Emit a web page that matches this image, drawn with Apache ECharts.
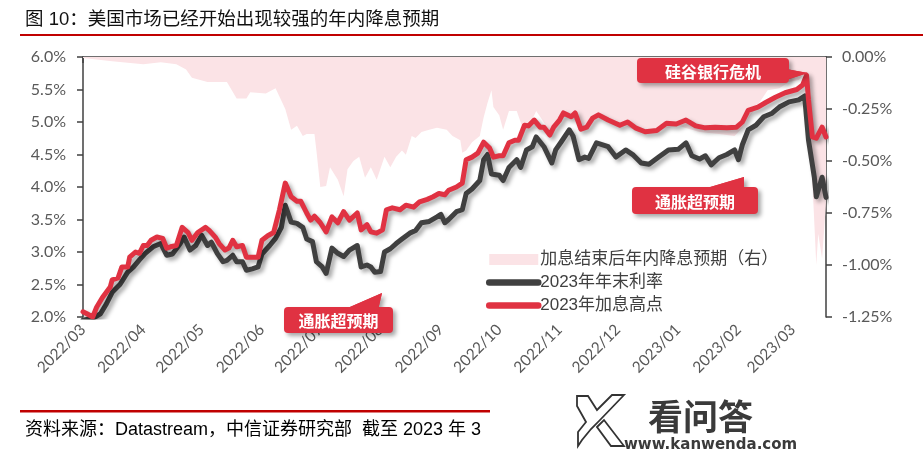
<!DOCTYPE html>
<html><head><meta charset="utf-8">
<script src="https://cdn.jsdelivr.net/npm/echarts@6/dist/echarts.min.js"></script>
<style>html,body{margin:0;padding:0;background:#fff;}#c{width:923px;height:457px;}</style>
</head><body><div id="c"></div>
<script>
// ---- data ----
const titleText = '图 10：美国市场已经开始出现较强的年内降息预期';
const sourceText = '资料来源：Datastream，中信证券研究部  截至 2023 年 3';
const seriesNames = ['加息结束后年内降息预期（右）', '2023年年末利率', '2023年加息高点'];
const xRange = ['2022-03-01', '2023-03-18'];
const leftAxis = { min: 2.0, max: 6.0, step: 0.5 };
const rightAxis = { min: -1.25, max: 0, step: 0.25 };

// 加息结束后年内降息预期（右） (%)
const cutExpect = [
 ['2022-03-01',-0.005],['2022-03-16',-0.02],['2022-04-01',-0.035],['2022-04-10',-0.025],['2022-04-18',-0.035],
 ['2022-04-23',-0.06],['2022-04-26',-0.10],['2022-05-04',-0.12],['2022-05-14',-0.12],['2022-05-19',-0.20],
 ['2022-05-24',-0.20],['2022-05-26',-0.17],['2022-06-03',-0.175],['2022-06-08',-0.15],['2022-06-13',-0.25],
 ['2022-06-16',-0.35],['2022-06-19',-0.33],['2022-06-22',-0.38],['2022-06-24',-0.37],['2022-06-28',-0.37],
 ['2022-06-29',-0.45],['2022-07-01',-0.625],['2022-07-04',-0.62],['2022-07-06',-0.53],['2022-07-10',-0.59],
 ['2022-07-13',-0.67],['2022-07-15',-0.54],['2022-07-18',-0.50],['2022-07-21',-0.48],['2022-07-24',-0.58],
 ['2022-07-27',-0.53],['2022-07-30',-0.59],['2022-08-03',-0.48],['2022-08-06',-0.53],['2022-08-09',-0.48],
 ['2022-08-12',-0.45],['2022-08-14',-0.47],['2022-08-17',-0.38],['2022-08-19',-0.39],['2022-08-22',-0.36],
 ['2022-08-26',-0.35],['2022-08-30',-0.34],['2022-09-04',-0.35],['2022-09-07',-0.38],['2022-09-11',-0.40],
 ['2022-09-12',-0.46],['2022-09-14',-0.45],['2022-09-17',-0.41],['2022-09-21',-0.38],['2022-09-23',-0.29],
 ['2022-09-25',-0.22],['2022-09-27',-0.16],['2022-09-28',-0.24],['2022-10-01',-0.28],['2022-10-03',-0.35],
 ['2022-10-06',-0.26],['2022-10-10',-0.26],['2022-10-13',-0.34],['2022-10-16',-0.34],['2022-10-20',-0.26],
 ['2022-10-23',-0.30],['2022-10-27',-0.36],['2022-11-01',-0.30],['2022-11-06',-0.27],['2022-11-12',-0.34],
 ['2022-11-18',-0.29],['2022-11-21',-0.28],['2022-12-02',-0.32],['2022-12-12',-0.36],['2022-12-22',-0.35],
 ['2023-01-01',-0.33],['2023-01-12',-0.36],['2023-01-22',-0.37],['2023-01-30',-0.38],['2023-02-03',-0.34],
 ['2023-02-11',-0.23],['2023-02-16',-0.16],['2023-02-22',-0.15],['2023-02-27',-0.12],['2023-03-04',-0.11],
 ['2023-03-07',-0.08],['2023-03-09',-0.25],['2023-03-11',-0.60],['2023-03-13',-1.00],['2023-03-14',-0.85],
 ['2023-03-16',-0.97],['2023-03-18',-0.70]
];

// 2023年年末利率 (%)
const yearEndRate = [
 ['2022-03-01',1.95],['2022-03-06',1.98],['2022-03-10',2.05],['2022-03-13',2.2],['2022-03-16',2.38],
 ['2022-03-20',2.5],['2022-03-24',2.69],['2022-03-27',2.77],['2022-03-30',2.88],['2022-04-02',2.98],
 ['2022-04-06',3.08],['2022-04-10',3.13],['2022-04-13',2.95],['2022-04-16',2.97],['2022-04-20',3.13],
 ['2022-04-22',3.23],['2022-04-25',3.03],['2022-04-28',3.1],['2022-05-01',3.26],['2022-05-04',3.1],
 ['2022-05-06',3.15],['2022-05-09',2.98],['2022-05-12',2.85],['2022-05-14',2.87],['2022-05-17',2.95],
 ['2022-05-19',2.85],['2022-05-22',2.85],['2022-05-24',2.72],['2022-05-27',2.74],['2022-05-30',2.77],
 ['2022-06-01',2.97],['2022-06-05',3.1],['2022-06-08',3.21],['2022-06-11',3.38],['2022-06-13',3.72],
 ['2022-06-16',3.46],['2022-06-19',3.44],['2022-06-22',3.38],['2022-06-24',3.2],['2022-06-27',3.16],
 ['2022-06-29',2.85],['2022-07-02',2.77],['2022-07-04',2.67],['2022-07-07',3.06],['2022-07-10',2.98],
 ['2022-07-13',2.93],['2022-07-16',3.03],['2022-07-20',3.1],['2022-07-22',2.77],['2022-07-25',2.8],
 ['2022-07-27',2.77],['2022-07-29',2.69],['2022-08-01',2.7],['2022-08-03',3.0],['2022-08-06',3.05],
 ['2022-08-09',3.13],['2022-08-12',3.2],['2022-08-16',3.29],['2022-08-19',3.33],['2022-08-22',3.45],
 ['2022-08-26',3.47],['2022-08-30',3.54],['2022-09-01',3.58],['2022-09-03',3.45],['2022-09-05',3.5],
 ['2022-09-09',3.62],['2022-09-12',3.65],['2022-09-14',3.9],['2022-09-17',3.97],['2022-09-21',4.1],
 ['2022-09-23',4.42],['2022-09-25',4.5],['2022-09-27',4.2],['2022-10-01',4.18],['2022-10-03',4.1],
 ['2022-10-06',4.3],['2022-10-10',4.42],['2022-10-12',4.3],['2022-10-15',4.57],['2022-10-18',4.62],
 ['2022-10-20',4.77],['2022-10-24',4.62],['2022-10-28',4.37],['2022-10-30',4.57],['2022-11-02',4.7],
 ['2022-11-06',4.88],['2022-11-08',4.78],['2022-11-11',4.42],['2022-11-14',4.46],['2022-11-16',4.44],
 ['2022-11-20',4.68],['2022-11-21',4.66],['2022-11-26',4.62],['2022-11-30',4.46],['2022-12-05',4.57],
 ['2022-12-09',4.49],['2022-12-13',4.37],['2022-12-17',4.35],['2022-12-22',4.46],['2022-12-27',4.57],
 ['2023-01-01',4.58],['2023-01-05',4.68],['2023-01-08',4.48],['2023-01-12',4.43],['2023-01-15',4.48],
 ['2023-01-18',4.34],['2023-01-22',4.45],['2023-01-26',4.5],['2023-01-30',4.57],['2023-02-01',4.42],
 ['2023-02-03',4.65],['2023-02-06',4.88],['2023-02-10',4.95],['2023-02-14',5.08],['2023-02-18',5.13],
 ['2023-02-22',5.23],['2023-02-27',5.31],['2023-03-04',5.34],['2023-03-07',5.4],['2023-03-09',4.72],
 ['2023-03-12',4.15],['2023-03-13',3.85],['2023-03-16',4.15],['2023-03-18',3.84]
];

// 2023年加息高点 (%)
const hikePeak = [
 ['2022-03-01',2.08],['2022-03-03',2.05],['2022-03-06',2.0],['2022-03-08',2.15],['2022-03-11',2.3],
 ['2022-03-15',2.46],['2022-03-16',2.57],['2022-03-19',2.6],['2022-03-21',2.77],['2022-03-24',2.77],
 ['2022-03-25',2.92],['2022-03-28',3.0],['2022-03-30',2.98],['2022-04-01',3.1],['2022-04-03',3.1],
 ['2022-04-05',3.18],['2022-04-08',3.23],['2022-04-11',3.21],['2022-04-13',3.06],['2022-04-15',3.08],
 ['2022-04-18',3.1],['2022-04-21',3.38],['2022-04-24',3.3],['2022-04-26',3.18],['2022-04-29',3.3],
 ['2022-05-03',3.38],['2022-05-05',3.33],['2022-05-08',3.23],['2022-05-10',3.13],['2022-05-13',3.03],
 ['2022-05-15',3.06],['2022-05-17',3.18],['2022-05-19',3.08],['2022-05-22',3.1],['2022-05-24',2.92],
 ['2022-05-27',2.92],['2022-05-30',2.92],['2022-06-01',3.18],['2022-06-04',3.25],['2022-06-07',3.3],
 ['2022-06-10',3.65],['2022-06-13',4.06],['2022-06-16',3.85],['2022-06-19',3.78],['2022-06-21',3.78],
 ['2022-06-24',3.6],['2022-06-26',3.49],['2022-06-28',3.55],['2022-07-01',3.45],['2022-07-04',3.31],
 ['2022-07-07',3.54],['2022-07-10',3.45],['2022-07-13',3.62],['2022-07-16',3.49],['2022-07-20',3.6],
 ['2022-07-22',3.34],['2022-07-25',3.42],['2022-07-27',3.31],['2022-07-30',3.29],['2022-08-02',3.34],
 ['2022-08-04',3.65],['2022-08-07',3.68],['2022-08-11',3.65],['2022-08-14',3.72],['2022-08-18',3.69],
 ['2022-08-21',3.77],['2022-08-25',3.81],['2022-08-28',3.85],['2022-08-31',3.9],['2022-09-03',3.88],
 ['2022-09-05',3.95],['2022-09-09',4.0],['2022-09-12',4.06],['2022-09-14',4.42],['2022-09-17',4.46],
 ['2022-09-20',4.52],['2022-09-23',4.69],['2022-09-26',4.6],['2022-09-28',4.46],['2022-10-01',4.48],
 ['2022-10-03',4.48],['2022-10-06',4.68],['2022-10-09',4.72],['2022-10-11',4.72],['2022-10-14',4.95],
 ['2022-10-16',4.94],['2022-10-19',5.03],['2022-10-22',4.92],['2022-10-24',4.92],['2022-10-27',4.8],
 ['2022-10-29',4.92],['2022-11-01',5.03],['2022-11-03',5.14],['2022-11-07',5.08],['2022-11-09',5.14],
 ['2022-11-12',4.89],['2022-11-15',4.92],['2022-11-18',5.06],['2022-11-21',5.11],['2022-11-26',5.03],
 ['2022-12-02',4.95],['2022-12-06',5.0],['2022-12-10',4.91],['2022-12-15',4.85],['2022-12-21',4.87],
 ['2022-12-26',4.98],['2022-12-31',4.97],['2023-01-05',5.03],['2023-01-10',4.94],['2023-01-15',4.91],
 ['2023-01-20',4.92],['2023-01-26',4.91],['2023-01-31',4.92],['2023-02-01',4.91],['2023-02-03',5.0],
 ['2023-02-06',5.18],['2023-02-11',5.23],['2023-02-15',5.3],['2023-02-20',5.38],['2023-02-25',5.45],
 ['2023-03-03',5.5],['2023-03-06',5.57],['2023-03-08',5.72],['2023-03-09',5.34],['2023-03-11',4.77],
 ['2023-03-13',4.75],['2023-03-16',4.92],['2023-03-18',4.77]
];

const callouts = ['硅谷银行危机', '通胀超预期', '通胀超预期'];

// ---- chart ----
const RED = '#E03242', DARK = '#404040', PINK = '#FBE3E6', AXIS = '#404040', LBL = '#595959';
const LATIN = 'Lato, "Noto Sans CJK SC", sans-serif';
const CJK = '"Noto Sans CJK SC", sans-serif';
const ARIALCJK = '"Liberation Sans", "Noto Sans CJK SC", sans-serif';
const chart = echarts.init(document.getElementById('c'), null, { renderer: 'canvas' });
const DAY = 86400000;
const pad = n => (n < 10 ? '0' : '') + n;
const shadow = { shadowColor: 'rgba(0,0,0,0.35)', shadowBlur: 4, shadowOffsetX: 3, shadowOffsetY: 3 };

function callout(x, y, w, h, tail, text) {
  return {
    type: 'group', z: 100, children: [
      { type: 'polygon', z: 100, shape: { points: tail }, style: { fill: RED, ...shadow } },
      { type: 'rect', z: 100, shape: { x: x, y: y, width: w, height: h, r: 4 }, style: { fill: RED, ...shadow } },
      { type: 'polygon', z: 100, shape: { points: tail }, style: { fill: RED } },
      { type: 'text', z: 100, x: x + w / 2, y: y + h / 2 + 1, style: { text: text, fill: '#fff', font: 'bold 16px ' + CJK, align: 'center', verticalAlign: 'middle' } }
    ]
  };
}

const lineLegendStyle = { width: 6.5, cap: 'round', shadowBlur: 0, shadowOffsetX: 0, shadowOffsetY: 0, shadowColor: 'transparent' };

const option = {
  animation: false,
  backgroundColor: '#fff',
  grid: { left: 83, right: 97, top: 57, bottom: 140, containLabel: false },
  legend: {
    orient: 'vertical', left: 481, top: 246, itemWidth: 49, itemHeight: 11, itemGap: 6,
    textStyle: { fontSize: 17, color: '#404040', fontFamily: ARIALCJK, padding: [0, 0, 0, -3] },
    data: [
      { name: seriesNames[0], icon: 'rect', itemStyle: { color: PINK } },
      { name: seriesNames[1], itemStyle: { opacity: 0 }, lineStyle: { ...lineLegendStyle, color: DARK } },
      { name: seriesNames[2], itemStyle: { opacity: 0 }, lineStyle: { ...lineLegendStyle, color: RED } }
    ]
  },
  xAxis: {
    type: 'time', min: xRange[0], max: xRange[1],
    minInterval: 28 * DAY, maxInterval: 31 * DAY,
    axisLine: { lineStyle: { color: AXIS, width: 1.5 } },
    axisTick: { show: true, length: 6, lineStyle: { color: AXIS, width: 1.5 } },
    splitLine: { show: false },
    axisLabel: {
      rotate: 45, margin: 10, color: LBL, fontSize: 15.5, fontFamily: LATIN,
      showMaxLabel: false,
      formatter: v => { const d = new Date(v); return d.getFullYear() + '/' + pad(d.getMonth() + 1); }
    }
  },
  yAxis: [
    {
      type: 'value', min: leftAxis.min, max: leftAxis.max, interval: leftAxis.step,
      axisLine: { show: true, lineStyle: { color: AXIS, width: 1.5 } },
      axisTick: { show: true, length: 6, lineStyle: { color: AXIS, width: 1.5 } },
      splitLine: { show: false },
      axisLabel: { margin: 17, color: LBL, fontSize: 16, fontFamily: LATIN, formatter: v => v.toFixed(1) + '%' }
    },
    {
      type: 'value', min: rightAxis.min, max: rightAxis.max, interval: rightAxis.step, position: 'right',
      axisLine: { show: true, lineStyle: { color: AXIS, width: 1.5 } },
      axisTick: { show: true, length: 6, lineStyle: { color: AXIS, width: 1.5 } },
      splitLine: { show: false },
      axisLabel: { margin: 16, color: LBL, fontSize: 16, fontFamily: LATIN, formatter: v => v.toFixed(2) + '%' }
    }
  ],
  series: [
    {
      name: seriesNames[0], type: 'line', yAxisIndex: 1, data: cutExpect, showSymbol: false, symbol: 'none',
      lineStyle: { width: 0, color: PINK }, itemStyle: { color: PINK }, areaStyle: { color: PINK, opacity: 1 }, z: 1
    },
    {
      name: seriesNames[1], type: 'line', yAxisIndex: 0, data: yearEndRate, showSymbol: false, symbol: 'none',
      lineStyle: { width: 5, color: DARK, cap: 'round', join: 'round', ...shadow }, itemStyle: { color: DARK }, z: 3
    },
    {
      name: seriesNames[2], type: 'line', yAxisIndex: 0, data: hikePeak, showSymbol: false, symbol: 'none',
      lineStyle: { width: 5, color: RED, cap: 'round', join: 'round', ...shadow }, itemStyle: { color: RED }, z: 4
    }
  ],
  graphic: [
    { type: 'text', z: 100, left: 25, top: 11, style: { text: titleText, font: '18.5px ' + ARIALCJK, fill: '#111' } },
    { type: 'rect', z: 100, shape: { x: 20, y: 34, width: 903, height: 2 }, style: { fill: '#C00000' } },
    { type: 'rect', z: 100, shape: { x: 20, y: 410, width: 470, height: 2.5 }, style: { fill: '#C00000' } },
    { type: 'text', z: 100, left: 25, top: 421, style: { text: sourceText, font: '18px ' + ARIALCJK, fill: '#000' } },
    callout(637, 58, 152, 25, [[786, 69], [808, 73], [786, 80]], callouts[0]),
    callout(632, 187, 126, 27, [[700, 190], [744, 177], [744, 190]], callouts[1]),
    callout(284, 307, 109, 26, [[343, 310], [382, 293], [378, 310]], callouts[2]),
    // watermark
    { type: 'polygon', z: 100, shape: { points: [[577, 396], [588, 396], [597, 410], [612, 395], [624, 395], [600, 420], [591, 429], [582, 440], [578, 446], [578, 432], [586, 422], [577, 406]] }, style: { fill: '#fff', stroke: '#333', lineWidth: 1.8 } },
    { type: 'polygon', z: 100, shape: { points: [[597, 427], [604, 420], [624, 446], [611, 446]] }, style: { fill: '#fff', stroke: '#333', lineWidth: 1.8 } },
    { type: 'text', z: 100, left: 648, top: 399, style: { text: '看问答', font: 'bold 35px ' + CJK, fill: '#3a3a3a' } },
    { type: 'text', z: 100, left: 624, top: 438, style: { text: 'www.kanwenda.com', font: 'bold 15px "DejaVu Sans", sans-serif', fill: '#3a3a3a' } }
  ]
};
chart.setOption(option);
</script>
</body></html>
